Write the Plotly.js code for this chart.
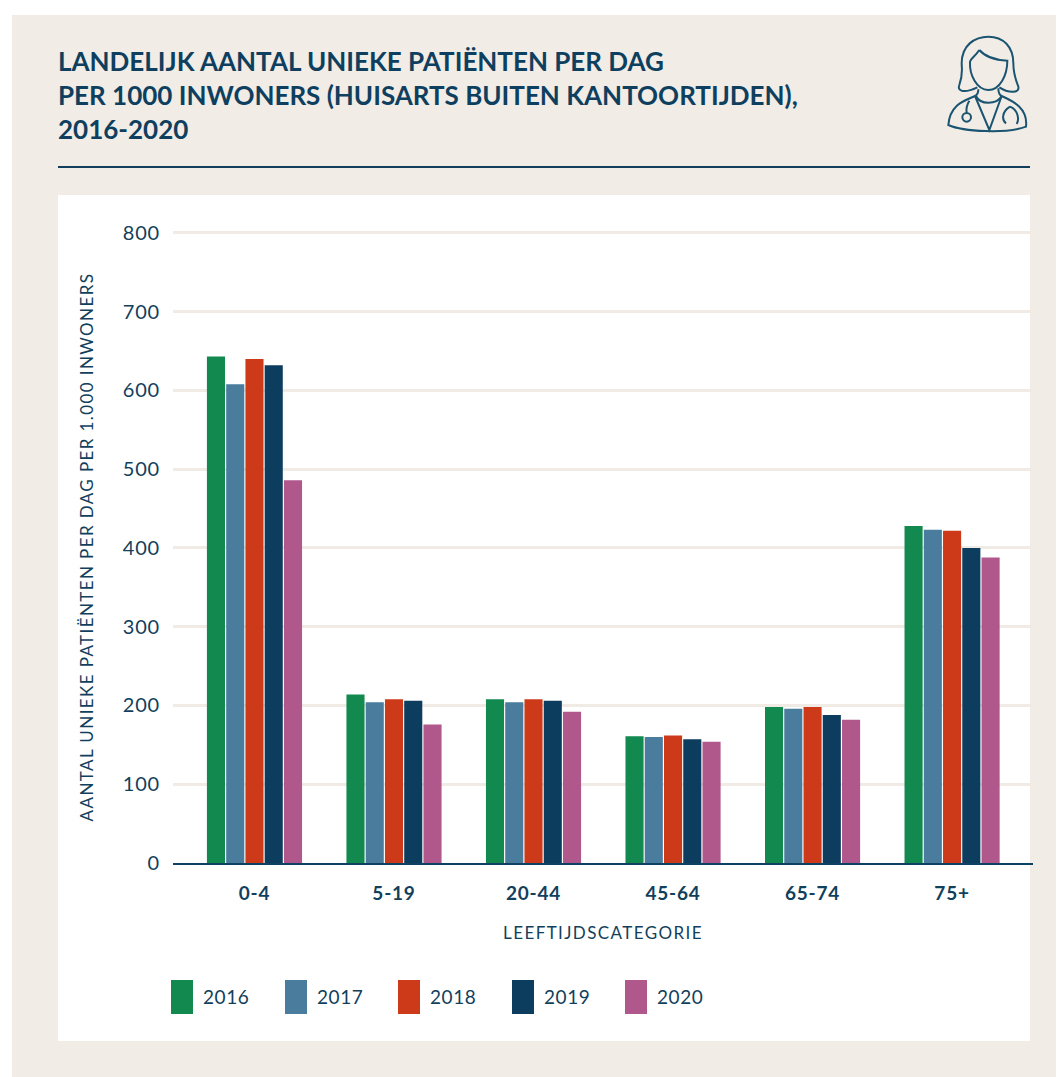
<!DOCTYPE html>
<html><head><meta charset="utf-8">
<script src="https://cdn.plot.ly/plotly-3.0.1.min.js"></script>
<style>html,body{margin:0;padding:0;background:#fff}
.xtitle,.ytitle{letter-spacing:1.4px}
.xtick text,.ytick text{letter-spacing:.8px}
.annotation-text{letter-spacing:.6px}
</style></head>
<body><div id="c" style="width:1064px;height:1077px"></div>
<script>
const categories=["0-4","5-19","20-44","45-64","65-74","75+"];
const years=["2016","2017","2018","2019","2020"];
const v2016=[643,214,208,161,198,428];
const v2017=[608,204,204,160,196,423];
const v2018=[640,208,208,162,198,422];
const v2019=[632,206,206,157,188,400];
const v2020=[486,176,192,154,182,388];
const seriesValues=[v2016,v2017,v2018,v2019,v2020];
const colors=["#12894f","#4a7c9e","#cc3a1a","#0c3c5e","#b0578c"];
const legendX=[171,285,398,512,625];
const ink="#123f5c";
const font="Lato, 'Open Sans', sans-serif";
const W=1064,H=1077,mL=173,mR=31,mT=231,mB=214;
const pw=W-mL-mR,ph=H-mT-mB;
const px=x=>(x-mL)/pw, py=y=>(H-mB-y)/ph;
const traces=seriesValues.map((y,i)=>({type:"bar",name:years[i],x:categories,y:y,marker:{color:colors[i]},showlegend:false}));
// icon, drawn in a local 492x540 box (3x page pixels, origin 900,10)
const ix=x=>px(900+x/3), iy=y=>py(10+y/3);
function pathOf(list){return list.map(s=>s[0]==="M"||s[0]==="L"?`${s[0]} ${ix(s[1])} ${iy(s[2])}`:
 `C ${ix(s[1])} ${iy(s[2])} ${ix(s[3])} ${iy(s[4])} ${ix(s[5])} ${iy(s[6])}`).join(" ");}
const icon=[
 [["M",232,232],["C",195,250,170,245,178,225],["C",190,190,185,175,185,160],["C",185,105,225,80,265,80],["C",310,80,340,110,340,160],["C",340,190,345,205,355,230],["C",360,250,325,250,298,232]],
 [["M",238,120],["C",225,140,212,145,210,155],["C",208,195,230,240,265,240],["C",300,240,322,195,322,152],["C",285,150,255,140,238,120]],
 [["M",235,238],["C",235,250,232,255,225,258],["C",200,270,150,280,145,345],["C",190,365,320,372,378,350],["C",385,290,330,270,305,258],["C",298,255,295,245,295,235]],
 [["M",225,258],["L",268,360],["L",305,258]],
 [["M",228,258],["C",240,285,290,285,305,258]],
 [["M",208,272],["C",200,285,198,295,200,308]],
 [["M",330,290],["C",355,300,358,330,350,342],["M",330,290],["C",305,305,305,330,318,340]]
];
const shapes=[
 {type:"rect",xref:"paper",yref:"paper",layer:"below",x0:px(12),x1:px(1056),y0:py(15),y1:py(1077),fillcolor:"#f1ece6",line:{width:0}},
 {type:"rect",xref:"paper",yref:"paper",layer:"below",x0:px(58),x1:px(1030),y0:py(195),y1:py(1041),fillcolor:"#ffffff",line:{width:0}},
 {type:"line",xref:"paper",yref:"paper",x0:px(58),x1:px(1030),y0:py(167),y1:py(167),line:{color:ink,width:2}},
 {type:"circle",xref:"paper",yref:"paper",x0:ix(187),x1:ix(213),y0:iy(309),y1:iy(335),line:{color:"#1a5470",width:2}}
];
icon.forEach(p=>shapes.push({type:"path",xref:"paper",yref:"paper",path:pathOf(p),line:{color:"#1a5470",width:2}}));
colors.forEach((c,i)=>shapes.push({type:"rect",xref:"paper",yref:"paper",x0:px(legendX[i]),x1:px(legendX[i]+22),y0:py(980),y1:py(1014),fillcolor:c,line:{width:0}}));
const annotations=years.map((t,i)=>({text:t,xref:"paper",yref:"paper",x:px(legendX[i]+30),y:py(996),xanchor:"left",yanchor:"middle",showarrow:false,font:{size:19,color:ink,family:font}}));
const layout={
 width:W,height:H,paper_bgcolor:"#fff",plot_bgcolor:"rgba(0,0,0,0)",barmode:"group",bargap:0.31,bargroupgap:0.06,
 margin:{l:mL,r:mR,t:mT,b:mB},
 font:{family:font,color:ink,size:17},showlegend:false,
 title:{text:"<b>LANDELIJK AANTAL UNIEKE PATIËNTEN PER DAG<br>PER 1000 INWONERS (HUISARTS BUITEN KANTOORTIJDEN),<br>2016-2020</b>",
  font:{family:font,size:26,color:"#0f3f5e"},x:58/W,xanchor:"left",y:1-71/H,yanchor:"top"},
 xaxis:{title:{text:"\u00a0\u00a0\u00a0LEEFTIJDSCATEGORIE",font:{size:17,color:ink},standoff:24},tickfont:{size:19,color:ink,weight:700},
  ticklabelstandoff:12,range:[-0.584,5.58],showline:true,linecolor:"#0d4263",linewidth:2,ticks:"",showgrid:false,zeroline:false,fixedrange:true,automargin:false},
 yaxis:{title:{text:"AANTAL UNIEKE PATIËNTEN PER DAG PER 1.000 INWONERS\u00a0\u00a0",font:{size:17,color:ink},standoff:24},range:[0,802.5],tickvals:[0,100,200,300,400,500,600,700,800],
  ticklabelstandoff:12,tickfont:{size:20,color:ink},gridcolor:"#f0ebe5",gridwidth:3,zeroline:false,ticks:"",fixedrange:true,automargin:false},
 shapes:shapes,annotations:annotations
};
Plotly.newPlot("c",traces,layout,{displayModeBar:false,staticPlot:true});
</script></body></html>
